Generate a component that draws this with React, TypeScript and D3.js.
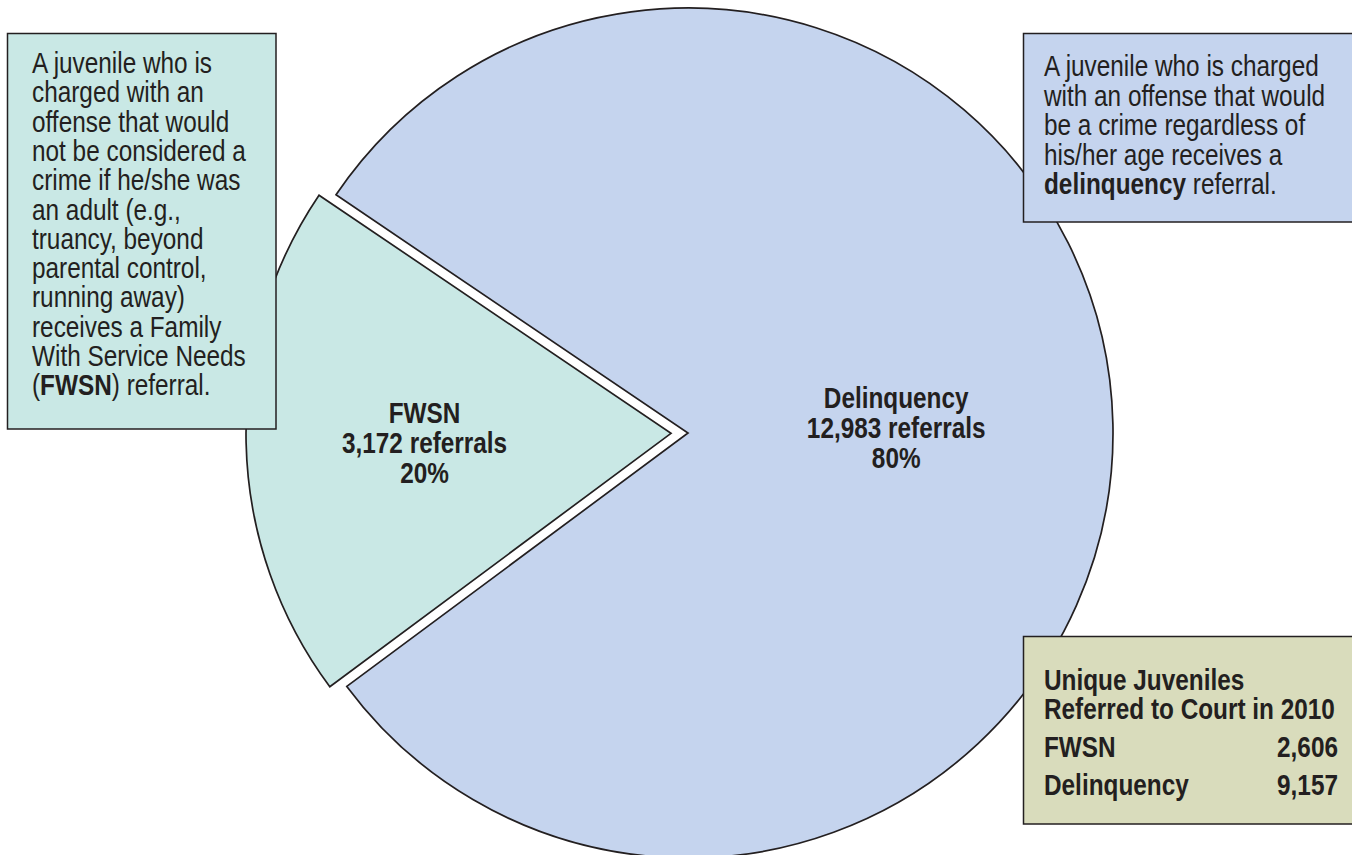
import React from 'react';
import * as d3 from 'd3';

// referral counts
const categories = ['FWSN', 'Delinquency'];
const referrals = [3172, 12983];
const percents = ['20%', '80%'];
const uniqueLabels = ['FWSN', 'Delinquency'];
const uniqueCounts = ['2,606', '9,157'];

const W = 1352, H = 855;
const cx = 688, cy = 433, R = 425;
const FONT = "'Liberation Sans', Arial, Helvetica, sans-serif";
const FS = 29;
const SX = 0.84; // horizontal squeeze to mimic a condensed face
const colors = ['#c9e8e5', '#c5d4ee'];
const stroke = '#231f20';
const ink = '#231f20';

type Line = string | [string, string, string];

const leftLines: Line[] = [
  'A juvenile who is',
  'charged with an',
  'offense that would',
  'not be considered a',
  'crime if he/she was',
  'an adult (e.g.,',
  'truancy, beyond',
  'parental control,',
  'running away)',
  'receives a Family',
  'With Service Needs',
  ['(', 'FWSN', ') referral.'],
];
const rightLines: Line[] = [
  'A juvenile who is charged',
  'with an offense that would',
  'be a crime regardless of',
  'his/her age receives a',
  ['', 'delinquency', ' referral.'],
];

// a text line squeezed horizontally around its anchor point
const T = ({ x, y, children, bold, anchor }: { x: number; y: number; children: React.ReactNode; bold?: boolean; anchor?: string }) => (
  <g transform={`translate(${x},${y}) scale(${SX},1)`}>
    <text x={0} y={0} fontFamily={FONT} fontSize={FS} fontWeight={bold ? 'bold' : 'normal'} fill={ink} textAnchor={anchor || 'start'}>
      {children}
    </text>
  </g>
);

const TextBlock = ({ lines, x, y, dy }: { lines: Line[]; x: number; y: number; dy: number }) => (
  <g>
    {lines.map((l, i) => (
      <T key={i} x={x} y={y + i * dy}>
        {typeof l === 'string' ? l : <>{l[0]}<tspan fontWeight="bold">{l[1]}</tspan>{l[2]}</>}
      </T>
    ))}
  </g>
);

export default function App() {
  const start = (233.4 * Math.PI) / 180;
  const pie = d3.pie<number>().sort(null).startAngle(start).endAngle(start + 2 * Math.PI);
  const arcs = pie(referrals);
  const arc = d3.arc<d3.PieArcDatum<number>>().innerRadius(0).outerRadius(R);
  const explode = [17, 0];
  const labelR = [0.58 * R, 0.49 * R];
  const labelShift = [4, 0];
  const fmt = d3.format(',');

  return (
    <svg width={W} height={H} style={{ position: 'absolute', left: 0, top: 0, background: '#fff' }}>
      {arcs.map((a, i) => {
        const mid = (a.startAngle + a.endAngle) / 2;
        const ox = explode[i] * Math.sin(mid);
        const oy = -explode[i] * Math.cos(mid);
        const lx = cx + ox + labelR[i] * Math.sin(mid);
        const ly = cy + oy - labelR[i] * Math.cos(mid) + labelShift[i];
        return (
          <g key={categories[i]}>
            <path d={arc(a) || ''} transform={`translate(${cx + ox},${cy + oy})`}
              fill={colors[i]} stroke={stroke} strokeWidth={1.7} strokeLinejoin="miter" />
            <T x={lx} y={ly - 20} bold anchor="middle">{categories[i]}</T>
            <T x={lx} y={ly + 10} bold anchor="middle">{fmt(referrals[i])} referrals</T>
            <T x={lx} y={ly + 40} bold anchor="middle">{percents[i]}</T>
          </g>
        );
      })}

      <rect x={7.5} y={33.5} width={268.5} height={395.5} fill="#c9e8e5" stroke={stroke} strokeWidth={1.5} />
      <TextBlock lines={leftLines} x={32} y={73} dy={29.3} />

      <rect x={1023.5} y={33.5} width={340} height={188.5} fill="#c5d4ee" stroke={stroke} strokeWidth={1.5} />
      <TextBlock lines={rightLines} x={1044} y={76} dy={29.5} />

      <rect x={1023.5} y={636.5} width={340} height={187.5} fill="#d9dcbc" stroke={stroke} strokeWidth={1.5} />
      <T x={1044} y={689.5} bold>Unique Juveniles</T>
      <T x={1044} y={719} bold>Referred to Court in 2010</T>
      {uniqueLabels.map((l, i) => (
        <g key={l}>
          <T x={1044} y={756.5 + i * 38} bold>{l}</T>
          <T x={1338} y={756.5 + i * 38} bold anchor="end">{uniqueCounts[i]}</T>
        </g>
      ))}
    </svg>
  );
}
